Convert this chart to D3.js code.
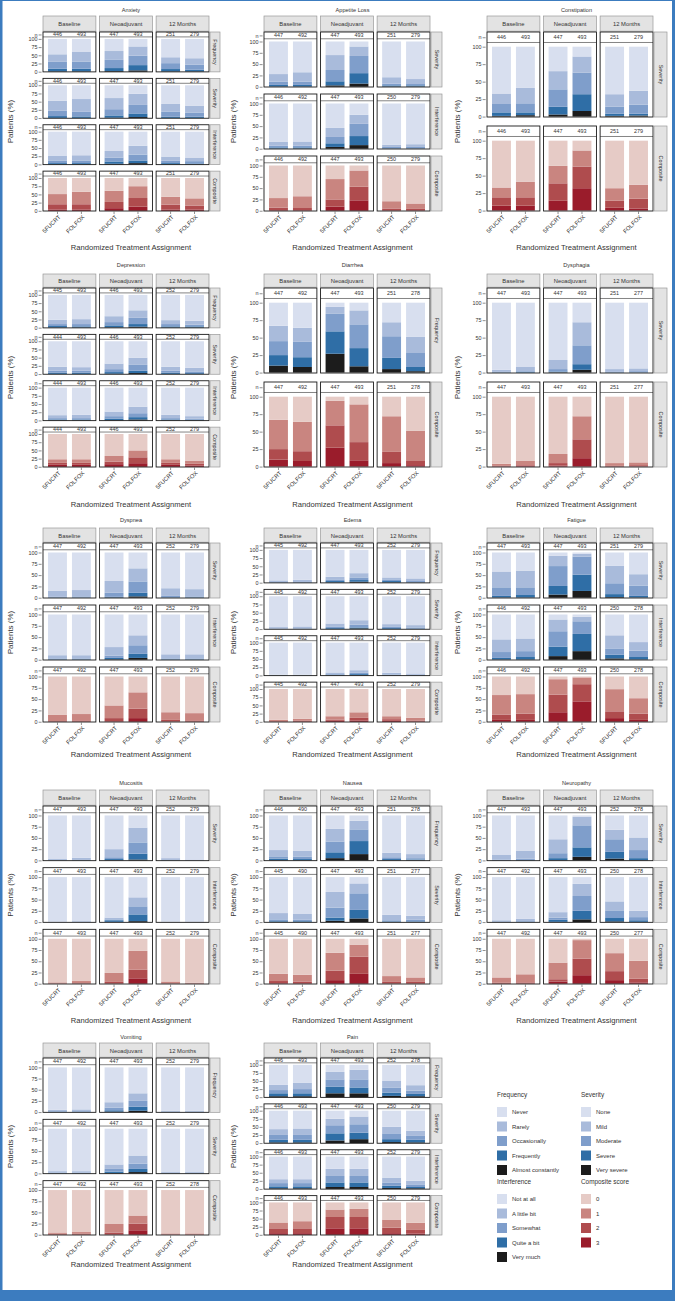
<!DOCTYPE html>
<html><head><meta charset="utf-8">
<script src="https://cdn.jsdelivr.net/npm/d3@7"></script>
<style>body{margin:0;background:#fff} svg{display:block} text{font-family:"Liberation Sans",Arial,sans-serif;fill:#333}</style>
</head><body><svg id="c" width="675" height="1301"></svg>
<script>
// ---------- categories ----------
const timepoints = ["Baseline", "Neoadjuvant", "12 Months"];
const arms = ["5FUCRT", "FOLFOX"];
const frequencyLevels = ["Never", "Rarely", "Occasionally", "Frequently", "Almost constantly"];
const severityLevels = ["None", "Mild", "Moderate", "Severe", "Very severe"];
const interferenceLevels = ["Not at all", "A little bit", "Somewhat", "Quite a bit", "Very much"];
const compositeLevels = ["0", "1", "2", "3"];
const yTicks = [0, 25, 50, 75, 100];

// ---------- data ----------
// Bars in order: Baseline 5FUCRT, Baseline FOLFOX, Neoadjuvant 5FUCRT, Neoadjuvant FOLFOX, 12 Months 5FUCRT, 12 Months FOLFOX
// Values: cumulative % of patients at each level or worse, from the worst level upward
const anxietyScales = ["Frequency", "Severity", "Interference", "Composite"];
const anxietyN = [[446,493,447,493,251,279],[446,493,447,493,251,279],[446,493,447,493,251,279],[446,493,447,493,251,279]];
const anxietyPct = [
  [[1,9,30,53],[1,9,31,60],[2,11,36,63],[4,20,49,77],[1,8,26,44],[1,6,21,41]],
  [[0.5,6,22,53],[0.5,5,19,58],[1,8,27,61],[3,14,40,74],[0.5,4,20,43],[0.5,4,16,38]],
  [[0.5,4,12,27],[0.5,4,12,28],[2,9,21,41],[4,12,30,57],[0.5,4,11,24],[0.5,3,10,21]],
  [[4,20,51],[4,20,58],[8,27,61],[13,39,75],[4,19,43],[4,16,38]]
];
const appetiteScales = ["Severity", "Interference", "Composite"];
const appetiteN = [[447,492,447,493,251,279],[446,492,447,493,250,279],[446,492,447,493,250,279]];
const appetitePct = [
  [[0.5,4,11,28],[0.5,4,11,32],[3,12,37,70],[7,30,68,89],[0.5,3,7,21],[0.5,3,6,17]],
  [[0.5,3,7,15],[0.5,3,7,16],[4,12,26,46],[8,28,55,75],[0.3,1,4,9],[0.3,1,4,10]],
  [[1,7,28],[1,6,32],[9,25,70],[23,53,89],[1,5,21],[1,4,16]]
];
const constipationScales = ["Severity", "Composite"];
const constipationN = [[446,493,447,493,251,279],[446,493,447,493,251,279]];
const constipationPct = [
  [[1,6,18,33],[2,6,19,41],[3,14,39,65],[8,32,63,86],[1,4,14,32],[1.5,4,17,37]],
  [[7,19,33],[7,19,41],[14,39,64],[32,63,86],[4,14,32],[3,17,37]]
];
const depressionScales = ["Frequency", "Severity", "Interference", "Composite"];
const depressionN = [[445,493,446,493,252,279],[444,493,446,493,252,279],[444,493,446,493,252,279],[444,493,446,493,252,279]];
const depressionPct = [
  [[0.5,5,11,24],[0.5,4,11,26],[1,7,17,35],[3,11,30,53],[0.5,4,11,23],[0.5,4,9,21]],
  [[0.5,4,10,22],[0.5,4,10,21],[1,6,15,32],[3,10,28,50],[0.5,4,10,22],[0.5,3,8,19]],
  [[0.5,3,7,16],[0.5,3,7,17],[1,5,13,27],[3,10,22,42],[0.5,3,7,17],[0.5,2,5,13]],
  [[6,12,23],[6,12,23],[8,16,33],[11,29,50],[6,12,23],[4,9,19]]
];
const diarrheaScales = ["Frequency", "Composite"];
const diarrheaN = [[447,492,447,493,251,278],[447,492,447,493,251,278]];
const diarrheaPct = [
  [[10,25,45,67],[8,22,44,64],[27,59,84,94],[9,35,69,89],[5,21,52,72],[2,8,28,51]],
  [[10,25,67],[8,22,64],[27,59,94],[9,35,89],[5,21,72],[2,8,51]]
];
const dysphagiaScales = ["Severity", "Composite"];
const dysphagiaN = [[447,493,447,493,251,277],[447,493,447,493,251,277]];
const dysphagiaPct = [
  [[0,0.5,1,4],[0,1,2,8],[0.5,1.5,5,18],[4,12,39,72],[0,0.5,1,5],[0,0.5,2,6]],
  [[0.5,1,4],[1,2,8],[1.5,5,18],[12,39,72],[0.5,1,5],[0.5,2,6]]
];
const dyspneaScales = ["Severity", "Interference", "Composite"];
const dyspneaN = [[447,492,447,493,252,279],[447,492,447,493,252,279],[447,492,447,493,252,279]];
const dyspneaPct = [
  [[0,0.5,2,15],[0,0.5,3,17],[0.5,2,11,37],[3,11,36,65],[0,1,4,21],[0,1,3,19]],
  [[0,1,3,10],[0,1,3,10],[1,4,9,28],[4,13,32,54],[0,1,3,12],[0,1,3,12]],
  [[0.5,1.5,15],[0.5,3,17],[1,8,36],[8,29,65],[0.5,4,21],[0.5,3,19]]
];
const edemaScales = ["Frequency", "Severity", "Interference", "Composite"];
const edemaN = [[445,492,447,493,252,279],[445,492,447,493,252,279],[445,492,447,493,252,279],[445,492,447,493,252,279]];
const edemaPct = [
  [[0,0.5,2,7],[0,0.5,2,9],[1,5,10,18],[3,8,16,29],[1,5,10,16],[0.5,1,5,13]],
  [[0,0.5,1,6],[0,0.5,2,8],[0.5,3,8,17],[2,5,13,27],[0.5,3,8,15],[0,1,5,12]],
  [[0,0.2,0.5,2],[0,0.2,0.5,2],[0.5,2,4,9],[1,4,8,16],[0.3,1,3,8],[0,0.5,2,6]],
  [[0.5,2,6],[0.5,3,9],[3,7,17],[4,12,29],[3,8,17],[1,4,12]]
];
const fatigueScales = ["Severity", "Interference", "Composite"];
const fatigueN = [[447,493,447,493,251,279],[446,492,447,493,250,278],[446,492,447,493,250,278]];
const fatiguePct = [
  [[0.5,4,23,58],[0.5,6,23,60],[7,26,70,93],[15,51,91,97],[1.5,8,32,71],[0.5,4,27,52]],
  [[0.5,4,17,45],[0.5,6,19,47],[8,29,63,89],[19,57,85,95],[3,11,25,54],[0.5,6,20,39]],
  [[4,16,59],[4,18,61],[21,60,94],[45,83,98],[8,23,72],[4,18,52]]
];
const mucositisScales = ["Severity", "Interference", "Composite"];
const mucositisN = [[447,493,447,493,252,279],[447,493,447,493,252,279],[447,493,447,493,252,279]];
const mucositisPct = [
  [[0,0.2,0.5,3],[0,0.3,1,6],[0.5,3,7,25],[2,15,40,73],[0,0.3,1,5],[0,0.2,0.5,2]],
  [[0,0,0.3,1],[0,0,0.5,2],[0.5,4,6,10],[2,17,35,55],[0,0,0,0.5],[0,0,0.3,1]],
  [[0.2,0.5,3],[0.3,1,6],[0.5,4,24],[12,31,73],[0.3,1,5],[0.2,0.5,2]]
];
const nauseaScales = ["Frequency", "Severity", "Composite"];
const nauseaN = [[446,490,447,493,251,278],[445,490,447,493,251,277],[445,490,447,493,251,277]];
const nauseaPct = [
  [[0.5,4,9,23],[0.5,3,8,21],[5,18,42,70],[14,43,69,88],[0.5,3,7,17],[0.5,2,5,14]],
  [[0.5,2,6,20],[0.5,2,5,18],[3,10,32,67],[8,27,64,86],[0.3,1.5,4,16],[0.3,1.5,5,14]],
  [[1,6,22],[1,5,20],[8,29,69],[22,60,87],[0.5,4,17],[0.5,4,14]]
];
const neuropathyScales = ["Severity", "Interference", "Composite"];
const neuropathyN = [[447,493,447,493,252,278],[447,492,447,493,250,278],[447,492,447,493,250,277]];
const neuropathyPct = [
  [[0,0.5,2,13],[0,1,4,21],[0.5,5,16,47],[8,29,78,97],[4,19,47,68],[0.5,5,23,51]],
  [[0,0.5,1.5,4],[0,0.5,2,7],[0.5,5,10,22],[6,25,58,85],[1.5,9,26,46],[0.5,4,11,25]],
  [[0.3,2,14],[0.5,3,21],[5,10,47],[19,56,97],[8,28,68],[3,11,51]]
];
const vomitingScales = ["Frequency", "Severity", "Composite"];
const vomitingN = [[447,492,447,493,252,279],[447,492,447,493,252,279],[447,492,447,493,252,278]];
const vomitingPct = [
  [[0,0.5,2,5],[0,0.5,2,6],[1,4,10,22],[3,12,25,42],[0,0.3,1,3],[0,0.3,1,3]],
  [[0,0.5,2,5],[0,0.5,2,5],[1,4,10,20],[3,10,22,40],[0,0.3,1,3],[0,0.3,1,3]],
  [[0.5,2,5],[0.5,2,6],[1,5,24],[10,25,43],[0.3,1,3],[0.3,1,3]]
];
const painScales = ["Frequency", "Severity", "Interference", "Composite"];
const painN = [[446,493,447,493,252,278],[446,493,447,493,250,279],[446,493,447,493,252,279],[446,493,447,493,250,279]];
const painPct = [
  [[3,12,22,38],[3,12,25,44],[12,32,55,78],[12,30,55,85],[4,14,30,50],[3,10,20,37]],
  [[2,10,25,43],[2,10,25,45],[8,30,55,75],[12,32,58,82],[3,12,30,50],[2,10,22,38]],
  [[2,8,18,30],[2,8,18,30],[6,20,40,62],[6,20,40,62],[3,10,20,35],[2,6,14,25]],
  [[5,20,38],[5,20,42],[20,55,78],[20,55,80],[5,22,47],[4,15,37]]
];

// ---------- styles / layout ----------
const blueColors = ["#d8dfef", "#a9bbdb", "#7f9ecb", "#2f6ea6", "#1c1c1c"]; // best -> worst
const redColors = ["#e6cbc6", "#c98580", "#af4c4e", "#9a1c2b"];
const colX0 = [43, 264, 487];
const colYlabX = [10, 233, 457];
const stripW = [10, 11, 13];
const rowGeom = [
  {title: 12, stripTop: 16, top: 32, bottom: 211, xlab: 250},
  {title: 267, stripTop: 274, top: 288, bottom: 467, xlab: 507},
  {title: 522, stripTop: 528, top: 543, bottom: 722, xlab: 757},
  {title: 785, stripTop: 790, top: 806, bottom: 984, xlab: 1023},
  {title: 1039, stripTop: 1043, top: 1058, bottom: 1235, xlab: 1267}
];
const gapByK = {2: 9, 3: 7, 4: 6.5};
const plotW = 166;

const panels = [
  ["Anxiety", anxietyScales, anxietyN, anxietyPct, 0, 0],
  ["Appetite Loss", appetiteScales, appetiteN, appetitePct, 0, 1],
  ["Constipation", constipationScales, constipationN, constipationPct, 0, 2],
  ["Depression", depressionScales, depressionN, depressionPct, 1, 0],
  ["Diarrhea", diarrheaScales, diarrheaN, diarrheaPct, 1, 1],
  ["Dysphagia", dysphagiaScales, dysphagiaN, dysphagiaPct, 1, 2],
  ["Dyspnea", dyspneaScales, dyspneaN, dyspneaPct, 2, 0],
  ["Edema", edemaScales, edemaN, edemaPct, 2, 1],
  ["Fatigue", fatigueScales, fatigueN, fatiguePct, 2, 2],
  ["Mucositis", mucositisScales, mucositisN, mucositisPct, 3, 0],
  ["Nausea", nauseaScales, nauseaN, nauseaPct, 3, 1],
  ["Neuropathy", neuropathyScales, neuropathyN, neuropathyPct, 3, 2],
  ["Vomiting", vomitingScales, vomitingN, vomitingPct, 4, 0],
  ["Pain", painScales, painN, painPct, 4, 1]
];

const svg = d3.select("#c");
svg.append("rect").attr("width", 675).attr("height", 1301).attr("fill", "#fff");

function segmentsFromCum(cum) {
  const k = cum.length + 1;
  const obj = {};
  let prev = 0;
  for (let i = 0; i < cum.length; i++) {
    obj["L" + (k - 1 - i)] = Math.max(0, cum[i] - prev);
    prev = cum[i];
  }
  obj["L0"] = Math.max(0, 100 - prev);
  return obj;
}

function drawPanel(name, scales, nArr, pct, row, col) {
  const g = svg.append("g");
  const geom = rowGeom[row];
  const x0 = colX0[col];
  const xT = d3.scaleBand().domain(timepoints).range([x0, x0 + plotW]).paddingInner(0.065);
  const xA = d3.scaleBand().domain(arms).range([0, xT.bandwidth()]).paddingInner(0.21).paddingOuter(0.21);
  const k = scales.length;
  const gap = gapByK[k];
  const h = (geom.bottom - geom.top - (k - 1) * gap) / k;
  const center = (x0 + x0 + plotW + stripW[col]) / 2;

  g.append("text").attr("x", center).attr("y", geom.title).attr("text-anchor", "middle")
    .attr("font-size", 5.6).text(name);

  timepoints.forEach(tp => {
    g.append("rect").attr("x", xT(tp)).attr("y", geom.stripTop).attr("width", xT.bandwidth())
      .attr("height", geom.top - geom.stripTop - 0.8).attr("fill", "#e3e3e3").attr("stroke", "#999").attr("stroke-width", 0.7);
    g.append("text").attr("x", xT(tp) + xT.bandwidth() / 2).attr("y", (geom.stripTop + geom.top) / 2)
      .attr("dy", "0.35em").attr("text-anchor", "middle").attr("font-size", 5.8).text(tp);
  });

  scales.forEach((sc, r) => {
    const y0 = geom.top + r * (h + gap);
    const y1 = y0 + h;
    const y = d3.scaleLinear().domain([-0.6, 121]).range([y1, y0]);
    const isComp = sc === "Composite";
    const colors = isComp ? redColors : blueColors;
    const nLev = colors.length;
    const keys = d3.range(nLev - 1, -1, -1).map(i => "L" + i);
    const rows = pct[r].map((cum, i) => Object.assign({tp: timepoints[Math.floor(i / 2)], arm: arms[i % 2], n: nArr[r][i]}, segmentsFromCum(cum)));
    const series = d3.stack().keys(keys)(rows);

    series.forEach(s => {
      const li = +s.key.slice(1);
      g.append("g").selectAll("rect").data(s).join("rect")
        .attr("x", d => xT(d.data.tp) + xA(d.data.arm))
        .attr("width", xA.bandwidth())
        .attr("y", d => y(d[1]))
        .attr("height", d => Math.max(0, y(d[0]) - y(d[1])))
        .attr("fill", colors[li]);
    });

    timepoints.forEach(tp => {
      g.append("line").attr("x1", xT(tp)).attr("x2", xT(tp) + xT.bandwidth())
        .attr("y1", y(106)).attr("y2", y(106)).attr("stroke", "#333").attr("stroke-width", 0.6);
      g.append("rect").attr("x", xT(tp)).attr("y", y0).attr("width", xT.bandwidth()).attr("height", y1 - y0)
        .attr("fill", "none").attr("stroke", "#1a1a1a").attr("stroke-width", 0.9);
    });
    g.append("g").selectAll("text").data(rows).join("text")
      .attr("x", d => xT(d.tp) + xA(d.arm) + xA.bandwidth() / 2)
      .attr("y", y(113.5)).attr("dy", "0.35em").attr("text-anchor", "middle")
      .attr("font-size", 5.4).text(d => d.n);

    const sx = x0 + plotW + 1;
    g.append("rect").attr("x", sx).attr("y", y0).attr("width", stripW[col]).attr("height", y1 - y0)
      .attr("fill", "#e3e3e3").attr("stroke", "#999").attr("stroke-width", 0.7);
    g.append("text").attr("transform", `translate(${sx + stripW[col] / 2},${(y0 + y1) / 2}) rotate(90)`)
      .attr("text-anchor", "middle").attr("dy", "0.35em").attr("font-size", 5.4).text(sc);

    const ax = d3.axisLeft(y).tickValues(yTicks.concat([113.5]))
      .tickFormat(d => d === 113.5 ? "n" : d).tickSize(3).tickPadding(1);
    const ag = g.append("g").attr("transform", `translate(${x0 - 1.4},0)`).call(ax);
    ag.select(".domain").remove();
    ag.selectAll("line").attr("stroke", "#444").attr("stroke-width", 0.6);
    ag.selectAll("text").attr("font-size", 5.4).attr("fill", "#333").style("font-family", "Liberation Sans, Arial, sans-serif");

    if (r === k - 1) {
      g.append("g").selectAll("line").data(rows).join("line")
        .attr("x1", d => xT(d.tp) + xA(d.arm) + xA.bandwidth() / 2)
        .attr("x2", d => xT(d.tp) + xA(d.arm) + xA.bandwidth() / 2)
        .attr("y1", y1 + 0.5).attr("y2", y1 + 3).attr("stroke", "#444").attr("stroke-width", 0.6);
      g.append("g").selectAll("text").data(rows).join("text")
        .attr("transform", d => `translate(${xT(d.tp) + xA(d.arm) + xA.bandwidth() / 2 + 2},${y1 + 5}) rotate(-45)`)
        .attr("text-anchor", "end").attr("dy", "0.35em").attr("font-size", 5.8).text(d => d.arm);
    }
  });

  g.append("text").attr("transform", `translate(${colYlabX[col]},${(geom.top + geom.bottom) / 2}) rotate(-90)`)
    .attr("text-anchor", "middle").attr("dy", "0.35em").attr("font-size", 8).text("Patients (%)");
  g.append("text").attr("x", center).attr("y", geom.xlab).attr("text-anchor", "middle")
    .attr("font-size", 7.6).text("Randomized Treatment Assignment");
}

panels.forEach(p => drawPanel(...p));

// ---------- legend ----------
const legendGroups = [
  {title: "Frequency", levels: frequencyLevels, colors: blueColors, x: 497, y: 1097},
  {title: "Severity", levels: severityLevels, colors: blueColors, x: 581, y: 1097},
  {title: "Interference", levels: interferenceLevels, colors: blueColors, x: 497, y: 1184},
  {title: "Composite score", levels: compositeLevels, colors: redColors, x: 581, y: 1184}
];
const lg = svg.append("g");
legendGroups.forEach(grp => {
  lg.append("text").attr("x", grp.x).attr("y", grp.y).attr("font-size", 6.4).text(grp.title);
  grp.levels.forEach((lv, i) => {
    const yy = grp.y + 10 + i * 14.5;
    lg.append("rect").attr("x", grp.x).attr("y", yy).attr("width", 10).attr("height", 10).attr("fill", grp.colors[i]);
    lg.append("text").attr("x", grp.x + 15).attr("y", yy + 5).attr("dy", "0.35em").attr("font-size", 6).text(lv);
  });
});

// ---------- frame ----------
svg.append("rect").attr("x", 0).attr("y", 0).attr("width", 2.5).attr("height", 1301).attr("fill", "#3c7cbf");
svg.append("rect").attr("x", 672).attr("y", 0).attr("width", 3).attr("height", 1301).attr("fill", "#3c7cbf");
svg.append("rect").attr("x", 0).attr("y", 0).attr("width", 675).attr("height", 1).attr("fill", "#3c7cbf");
svg.append("rect").attr("x", 0).attr("y", 1290).attr("width", 675).attr("height", 11).attr("fill", "#3c7cbf");
</script></body></html>
